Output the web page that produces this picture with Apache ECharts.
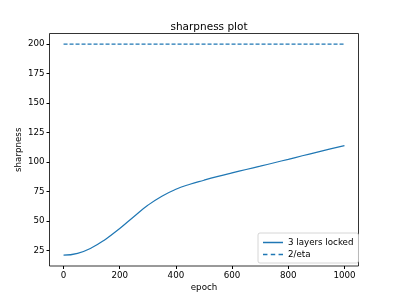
<!DOCTYPE html>
<html><head><meta charset="utf-8">
<script src="https://cdn.jsdelivr.net/npm/echarts@6/dist/echarts.min.js"></script>
<style>html,body{margin:0;padding:0;background:#fff}#c{width:399px;height:299px}</style>
</head><body><div id="c"></div>
<script>
var epochs = [0,50,100,150,200,250,300,350,400,450,500,550,600,650,700,750,800,850,900,950,1000];
var sharpness = [21.2,22.8,27.5,34.8,43.8,53.8,63.5,71.2,77,81.3,84.7,87.9,90.9,93.8,96.6,99.5,102.4,105.4,108.3,111.2,114];
var etaEpochs = [0,1000];
var etaValues = [200,200];
var xTicks = [0,200,400,600,800,1000];
var yTicks = [25,50,75,100,125,150,175,200];
var font = 'DejaVu Sans';
var chart = echarts.init(document.getElementById('c'));
chart.setOption({
  animation:false,
  title:{text:'sharpness plot',top:17,left:204,textAlign:'center',textStyle:{fontFamily:font,fontSize:10.5,fontWeight:'normal',color:'#000'}},
  grid:{left:49.5,right:40.5,top:33.5,bottom:33,show:true,borderColor:'#000',borderWidth:0.8,containLabel:false},
  legend:{left:258,top:233,orient:'vertical',itemGap:3,itemWidth:20,itemHeight:8,padding:[5,5,4,5],
    borderColor:'#ccc',borderWidth:0.8,borderRadius:2,backgroundColor:'rgba(255,255,255,0.8)',
    textStyle:{fontFamily:font,fontSize:8.7,color:'#000'},
    data:[{name:'3 layers locked',icon:'path://M0,0L20,0L20,1.5L0,1.5Z'},{name:'2/eta',icon:'path://M0,0L4,0L4,1.5L0,1.5ZM7,0L11,0L11,1.5L7,1.5ZM14,0L18,0L18,1.5L14,1.5Z'}]},
  xAxis:{type:'value',min:-50,max:1050,name:'epoch',nameLocation:'middle',nameGap:17,nameMoveOverlap:false,
    nameTextStyle:{fontFamily:font,fontSize:8.7,color:'#000'},
    axisLine:{show:false,onZero:false},splitLine:{show:false},
    axisTick:{show:true,inside:false,length:3,lineStyle:{color:'#000',width:1},customValues:xTicks},
    axisLabel:{fontFamily:font,fontSize:8.7,color:'#000',margin:5,customValues:xTicks,formatter:function(v){return String(v);}}},
  yAxis:{type:'value',min:12.05,max:208.95,name:'sharpness',nameLocation:'middle',nameGap:26,nameMoveOverlap:false,
    nameTextStyle:{fontFamily:font,fontSize:8.7,color:'#000'},
    axisLine:{show:false,onZero:false},splitLine:{show:false},
    axisTick:{show:true,inside:false,length:3,lineStyle:{color:'#000',width:1},customValues:yTicks},
    axisLabel:{fontFamily:font,fontSize:8.7,color:'#000',margin:5,customValues:yTicks,formatter:function(v){return String(v);}}},
  series:[
    {name:'3 layers locked',type:'line',smooth:0.5,symbol:'none',data:epochs.map(function(e,i){return [e,sharpness[i]];}),
     lineStyle:{color:'#1f77b4',width:1.2},itemStyle:{color:'#1f77b4'}},
    {name:'2/eta',type:'line',symbol:'none',data:etaEpochs.map(function(e,i){return [e,etaValues[i]];}),
     lineStyle:{color:'#1f77b4',width:1.2,type:[4,2]},itemStyle:{color:'#1f77b4'}}
  ]
});
</script></body></html>
